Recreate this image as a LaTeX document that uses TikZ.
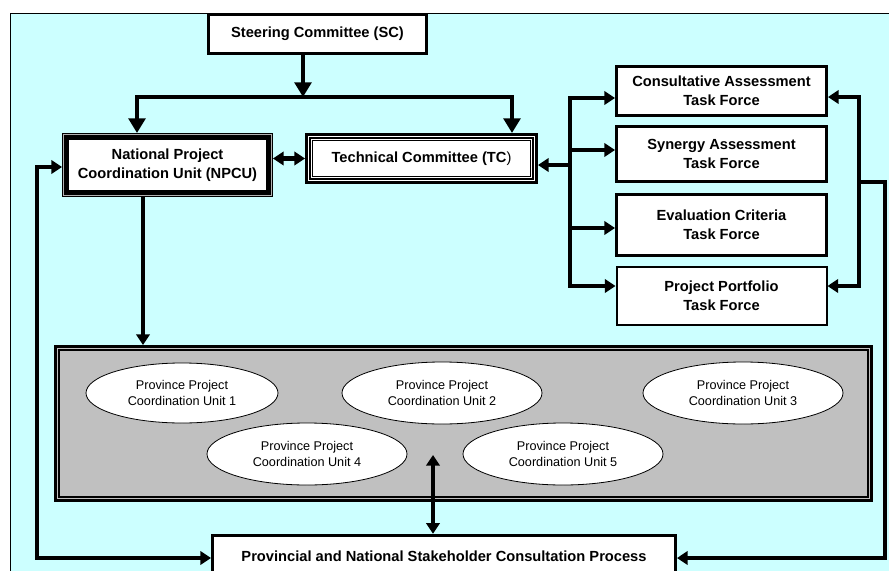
\documentclass[tikz,border=0pt]{standalone}
\usepackage{fontspec}
\setmainfont{Liberation Sans}
\definecolor{mycyan}{RGB}{204,255,255}
\definecolor{mygray}{RGB}{192,192,192}
\usetikzlibrary{arrows.meta,shapes.geometric,positioning}

\begin{document}
\begin{tikzpicture}[x=0.75pt,y=-0.75pt,
    every node/.style={align=center,inner sep=0pt},
    boldbox/.style={draw,fill=white,line width=2.25pt,font=\fontsize{11}{14.3}\selectfont\bfseries},
    taskbox/.style={boldbox,minimum width=157.5pt},
    unitnode/.style={draw,ellipse,fill=white,line width=0.6pt,minimum width=150pt,minimum height=46.5pt,font=\fontsize{9.5}{11.3}\selectfont},
    link/.style={line width=3.3pt},
    arr/.style={link,-{Triangle[length=8pt,width=10pt]}},
    biarr/.style={link,{Triangle[length=8pt,width=10pt]}-{Triangle[length=8pt,width=10pt]}},
    bigarr/.style={link,-{Triangle[length=11pt,width=12.5pt]}}
    ]
    \useasboundingbox (0,0) rectangle (889,571);
    \clip (0,0) rectangle (889,571);

    % the background
    \fill[mycyan,draw=black,line width=0.75pt] (10,13) rectangle (900,600);

    % the committees
    \node[boldbox,minimum width=163.5pt,minimum height=29.25pt] (sc) at (317.5,34) {Steering Committee (SC)};
    \node[boldbox,line width=5.25pt,minimum width=153pt,minimum height=42.75pt] (npcu) at (167.5,165) {National Project\\Coordination Unit (NPCU)};
    \node[boldbox,line width=6pt,minimum width=168.75pt,minimum height=32.25pt] (tc) at (421.5,158.5) {Technical Committee (TC\textmd{)}};
    \draw[gray!60,line width=0.75pt] ([shift={(1.5,1.5)}]npcu.north west) rectangle ([shift={(-1.5,-1.5)}]npcu.south east);
    \draw[white,line width=1.1pt] ([shift={(3.75,3.75)}]tc.north west) rectangle ([shift={(-3.75,-3.75)}]tc.south east);
    \draw[white,line width=0.75pt] ([shift={(6.5,6.5)}]tc.north west) rectangle ([shift={(-6.5,-6.5)}]tc.south east);

    % the task forces
    \node[taskbox,minimum height=36.75pt] (cons) at (721.5,91) {Consultative Assessment\\Task Force};
    \node[taskbox,minimum height=41.25pt] (syn) at (721.5,154) {Synergy Assessment\\Task Force};
    \node[taskbox,minimum height=45.75pt] (eval) at (721.5,225) {Evaluation Criteria\\Task Force};
    \node[taskbox,line width=1.5pt,minimum height=43.5pt] (port) at (721.5,295.5) {Project Portfolio\\Task Force};

    % the province units
    \node[draw,fill=mygray,line width=4.5pt,minimum width=609.75pt,minimum height=113.25pt] (units) at (463.5,423.5) {};
    \draw[mygray,line width=1.1pt] ([shift={(3.75,3.75)}]units.north west) rectangle ([shift={(-3.75,-3.75)}]units.south east);
    \node[unitnode,minimum width=144pt,minimum height=45pt] (u1) at (182,393) {Province Project\\Coordination Unit 1};
    \node[unitnode] (u2) at (442,393) {Province Project\\Coordination Unit 2};
    \node[unitnode] (u3) at (743,393) {Province Project\\Coordination Unit 3};
    \node[unitnode] (u4) at (307,454) {Province Project\\Coordination Unit 4};
    \node[unitnode] (u5) at (563,454) {Province Project\\Coordination Unit 5};

    % the consultation
    \node[boldbox,minimum width=347.25pt,minimum height=31.1pt] (stake) at (444,556) {Provincial and National Stakeholder Consultation Process};

    % the links from the SC
    \coordinate (split) at (303,97);
    \coordinate (npcuin) at (137,97);
    \coordinate (tcin) at (512,97);
    \draw[bigarr] (sc.south -| split) -- (split);
    \draw[bigarr] (split) -| (npcuin |- npcu.north);
    \draw[bigarr] (split) -| (tcin |- tc.north);
    \draw[biarr] (tc.west) -- (tc.west -| npcu.east);

    % the links to the task forces
    \coordinate (ttc) at (570,165);
    \foreach \n/\y in {cons/98,syn/150,eval/228,port/286}
    {
        \coordinate (t\n) at (570,\y);
        \draw[arr] (t\n) -- (t\n -| \n.west);
    }
    \draw[link,line cap=rect] (tcons) -- (tport);
    \draw[arr] (ttc) -- (ttc -| tc.east);

    % the right loop
    \coordinate (rcons) at (859,97);
    \coordinate (rport) at (859,286);
    \coordinate (rmid) at (859,182);
    \coordinate (rfar) at (885,558);
    \draw[arr] (rcons) -- (rcons -| cons.east);
    \draw[arr] (rport) -- (rport -| port.east);
    \draw[link,line cap=rect] (rcons) -- (rport);
    \draw[arr] (rmid) -- (rmid -| rfar) -- (rfar) -- (rfar -| stake.east);

    % the left loop
    \coordinate (ltop) at (37,167);
    \coordinate (lbot) at (37,558);
    \draw[arr] (ltop) -- (ltop -| npcu.west);
    \draw[arr,line cap=rect] (ltop) -- (lbot) -- (lbot -| stake.west);

    % the links to the units
    \coordinate (dn) at (143,0);
    \coordinate (mid) at (433,455);
    \draw[arr] (npcu.south -| dn) -- (dn |- units.north);
    \draw[biarr] (mid) -- (mid |- stake.north);
\end{tikzpicture}
\end{document}
